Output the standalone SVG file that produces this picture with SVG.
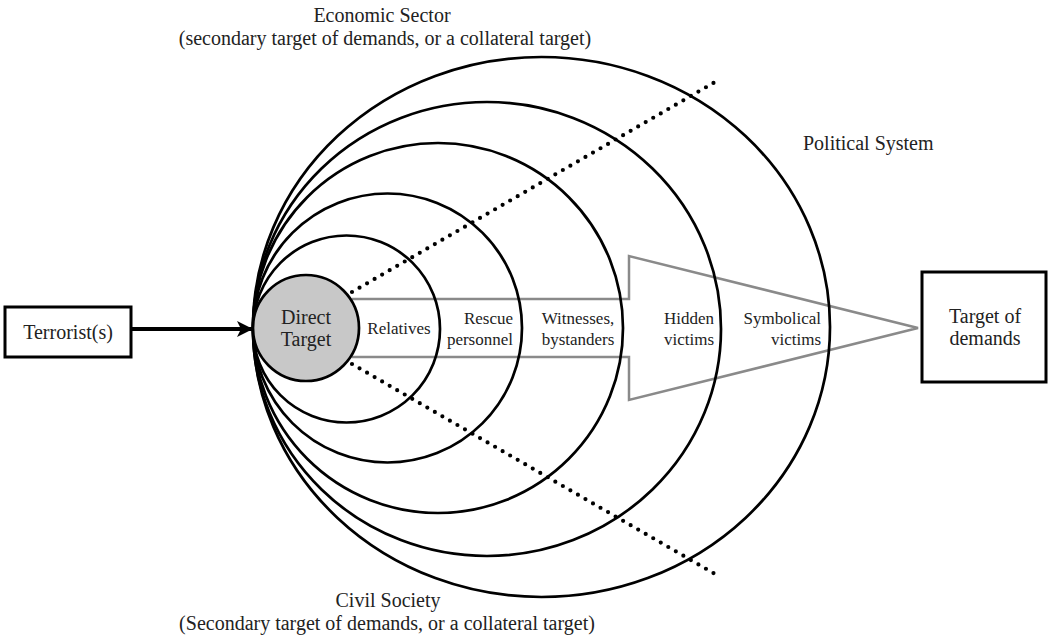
<svg xmlns="http://www.w3.org/2000/svg" width="1048" height="637" viewBox="0 0 1048 637">
<defs>
<style>
text{font-family:"Liberation Serif","Times New Roman",serif;fill:#222}
.big{font-size:20px}
.sm{font-size:17px}
.ring{fill:none;stroke:#000;stroke-width:2.7}
.box{fill:#fff;stroke:#000;stroke-width:3}
.dots{fill:none;stroke:#000;stroke-width:4.2;stroke-linecap:round;stroke-dasharray:0 8.7}
.gray{fill:none;stroke:#8a8a8a;stroke-width:2.5;stroke-linejoin:miter}
</style>
<marker id="ah" viewBox="0 0 16 16" refX="15" refY="8" markerWidth="16" markerHeight="16" markerUnits="userSpaceOnUse" orient="auto">
<path d="M0,0 L16,8 L0,16 L4,8 z" fill="#000"/>
</marker>
</defs>
<rect width="1048" height="637" fill="#fff"/>

<g id="connectors">
<path id="gray-arrow" class="gray" d="M352 299 L629 299 L629 256 L918 328 L629 400 L629 357 L352 357"/>
<line class="dots" x1="352" y1="292" x2="715" y2="82"/>
<line class="dots" x1="352" y1="364" x2="715" y2="574"/>
<line x1="132" y1="329" x2="252" y2="329" stroke="#000" stroke-width="3.8" marker-end="url(#ah)"/>
</g>

<g id="rings">
<ellipse id="ring-political" class="ring" cx="541.5" cy="327" rx="288.5" ry="270"/>
<ellipse id="ring-symbolical" class="ring" cx="487" cy="329" rx="234" ry="227"/>
<circle id="ring-hidden" class="ring" cx="438" cy="328" r="185"/>
<circle id="ring-witnesses" class="ring" cx="387.5" cy="328" r="134.5"/>
<circle id="ring-rescue" class="ring" cx="346.5" cy="329" r="93.5"/>
</g>

<g id="direct-target">
<circle cx="306" cy="328" r="53" fill="#c8c8c8" stroke="#000" stroke-width="2.7"/>
<text class="big" x="306" y="324" text-anchor="middle">Direct</text>
<text class="big" x="306" y="346" text-anchor="middle">Target</text>
</g>

<g id="terrorists">
<rect class="box" x="5" y="307" width="126" height="50"/>
<text class="big" x="68" y="339" text-anchor="middle">Terrorist(s)</text>
</g>

<g id="target-of-demands">
<rect class="box" x="922" y="272" width="124" height="110"/>
<text class="big" x="985" y="323" text-anchor="middle">Target of</text>
<text class="big" x="985" y="345" text-anchor="middle">demands</text>
</g>

<g id="labels">
<text class="sm" x="399" y="334" text-anchor="middle">Relatives</text>
<text class="sm" x="513" y="324" text-anchor="end">Rescue</text>
<text class="sm" x="513" y="345" text-anchor="end">personnel</text>
<text class="sm" x="578" y="324" text-anchor="middle">Witnesses,</text>
<text class="sm" x="578" y="345" text-anchor="middle">bystanders</text>
<text class="sm" x="714" y="324" text-anchor="end">Hidden</text>
<text class="sm" x="714" y="345" text-anchor="end">victims</text>
<text class="sm" x="821" y="324" text-anchor="end">Symbolical</text>
<text class="sm" x="821" y="345" text-anchor="end">victims</text>
</g>

<g id="sector-labels">
<text class="big" x="382" y="22" text-anchor="middle">Economic Sector</text>
<text class="big" x="385" y="45" text-anchor="middle">(secondary target of demands, or a collateral target)</text>
<text class="big" x="803" y="150">Political System</text>
<text class="big" x="388" y="607" text-anchor="middle">Civil Society</text>
<text class="big" x="387" y="630" text-anchor="middle">(Secondary target of demands, or a collateral target)</text>
</g>
</svg>
